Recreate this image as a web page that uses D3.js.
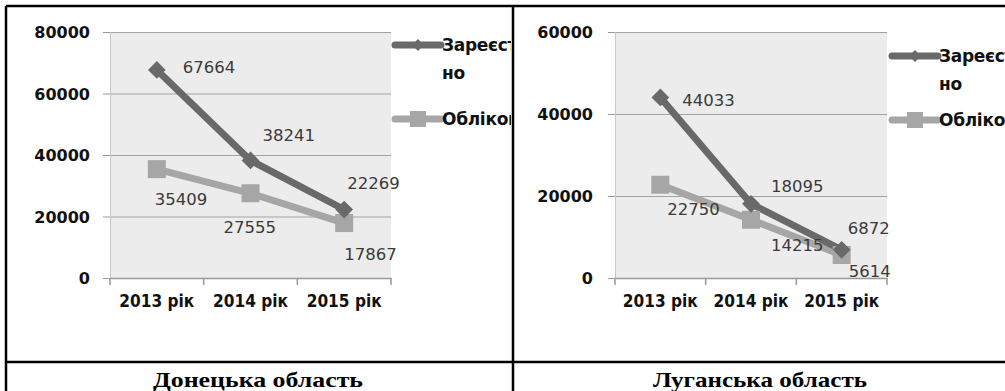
<!DOCTYPE html>
<html><head><meta charset="utf-8">
<script src="https://cdn.jsdelivr.net/npm/d3@7"></script>
<style>body{margin:0;background:#fff}svg{display:block}</style>
</head><body>
<svg id="c" width="1005" height="391"></svg>
<script>
const categories = ["2013 рік", "2014 рік", "2015 рік"];
const seriesNames = ["Зареєстровано", "Обліковано"];
const donetskRegistered = [67664, 38241, 22269];
const donetskRecorded = [35409, 27555, 17867];
const luhanskRegistered = [44033, 18095, 6872];
const luhanskRecorded = [22750, 14215, 5614];
const donetskTicks = [0, 20000, 40000, 60000, 80000];
const luhanskTicks = [0, 20000, 40000, 60000];
const titles = ["Донецька область", "Луганська область"];

const svg = d3.select("#c");
const colors = ["#696969", "#a6a6a6"];

svg.append("defs").append("clipPath").attr("id","clipL")
  .append("rect").attr("x",0).attr("y",0).attr("width",511).attr("height",391);

function drawChart(cfg){
  const g = svg.append("g");
  const x = d3.scaleBand().domain(categories).range([cfg.x0, cfg.x1]);
  const y = d3.scaleLinear().domain([0, d3.max(cfg.ticks)]).range([278, 32]);
  g.append("rect").attr("x", cfg.x0).attr("y", y(d3.max(cfg.ticks)))
    .attr("width", cfg.x1 - cfg.x0).attr("height", y(0) - y(d3.max(cfg.ticks)))
    .attr("fill", "#ececec");
  const grid = g.append("g").attr("transform", `translate(${cfg.x0},0)`)
    .call(d3.axisLeft(y).tickValues(cfg.ticks).tickSize(-(cfg.x1-cfg.x0)).tickFormat(""));
  grid.select(".domain").remove();
  grid.selectAll("line").attr("stroke", "#a3a3a3").attr("stroke-width", 1.2);
  const ya = g.append("g").attr("transform", `translate(${cfg.x0},0)`)
    .call(d3.axisLeft(y).tickValues(cfg.ticks).tickSize(7).tickPadding(cfg.pad).tickFormat(d3.format("d")));
  ya.select(".domain").attr("stroke", "#c8c8c8");
  ya.selectAll("line").attr("stroke", "#999");
  ya.selectAll("text").attr("font-family", "DejaVu Sans").attr("font-weight", "bold")
    .attr("font-size", 16).attr("fill", "#111").attr("dy", "0.35em");
  const xa = g.append("g").attr("transform", `translate(0,${y(0)})`)
    .call(d3.axisBottom(x).tickSize(0).tickPadding(20));
  xa.select(".domain").attr("stroke", "#999").attr("stroke-width", 1.5);
  xa.selectAll("text").attr("font-family", "DejaVu Sans").attr("font-weight", "bold")
    .attr("font-size", 18).attr("fill", "#111").attr("dy", "0.5em")
    .attr("textLength", 75).attr("lengthAdjust", "spacingAndGlyphs");
  const edges = categories.map(c => x(c)).concat([cfg.x1]);
  g.selectAll(".xt").data(edges).join("line")
    .attr("x1", d => d).attr("x2", d => d).attr("y1", y(0)).attr("y2", y(0) + 7)
    .attr("stroke", "#999").attr("stroke-width", 1.5);

  const series = [cfg.s0, cfg.s1];
  const line = d3.line().x((d,i) => x(categories[i]) + x.bandwidth()/2).y(d => y(d));
  [1,0].forEach(si => {
    g.append("path").datum(series[si]).attr("d", line)
      .attr("fill", "none").attr("stroke", colors[si]).attr("stroke-width", 7)
      .attr("stroke-linejoin", "round");
  });
  [1,0].forEach(si => {
    series[si].forEach((v,i) => {
      const cx = x(categories[i]) + x.bandwidth()/2, cy = y(v);
      if (si === 0) {
        g.append("path").attr("d", d3.symbol(d3.symbolDiamond2, 200)())
          .attr("transform", `translate(${cx},${cy})`).attr("fill", colors[0]);
      } else {
        g.append("rect").attr("x", cx-9).attr("y", cy-9).attr("width", 18).attr("height", 18)
          .attr("fill", colors[1]);
      }
    });
  });
  series.forEach((s, si) => {
    s.forEach((v,i) => {
      const cx = x(categories[i]) + x.bandwidth()/2, cy = y(v);
      const off = cfg.labelOff[si][i];
      g.append("text").attr("x", cx + off[0]).attr("y", cy + off[1]).attr("dy", "0.35em")
        .attr("font-family", "DejaVu Sans").attr("font-size", 16.5).attr("fill", "#3a3a3a")
        .text(v);
    });
  });
  const lg = svg.append("g").attr("clip-path", cfg.legendClip || null);
  const ly = cfg.legendY;
  [0,1].forEach(si => {
    const yy = ly[si];
    lg.append("line").attr("x1", cfg.lx).attr("x2", cfg.lx + 46).attr("y1", yy).attr("y2", yy)
      .attr("stroke", colors[si]).attr("stroke-width", 7).attr("stroke-linecap", "round");
    const mx = cfg.lx + 23;
    if (si === 0) lg.append("path").attr("d", d3.symbol(d3.symbolDiamond2, 90)())
      .attr("transform", `translate(${mx},${yy})`).attr("fill", colors[0]);
    else lg.append("rect").attr("x", mx-8).attr("y", yy-8).attr("width", 16).attr("height", 16).attr("fill", colors[1]);
  });
  const tf = t => t.attr("font-family", "DejaVu Sans").attr("font-weight", "bold").attr("font-size", 17).attr("fill", "#111").attr("dy", "0.35em").attr("letter-spacing", "-0.3");
  tf(lg.append("text").attr("x", cfg.lx + 47).attr("y", ly[0]).text(seriesNames[0].slice(0, 11)));
  tf(lg.append("text").attr("x", cfg.lx + 47).attr("y", ly[0] + 28).text(seriesNames[0].slice(11)));
  tf(lg.append("text").attr("x", cfg.lx + 47).attr("y", ly[1]).text(seriesNames[1]));
}

drawChart({
  x0: 110, x1: 391, ticks: donetskTicks, pad: 13, s0: donetskRegistered, s1: donetskRecorded,
  labelOff: [[[26,-3],[12,-25],[3,-26]], [[-2,30],[-27,34],[0,31]]],
  lx: 395, legendY: [45, 119], legendClip: "url(#clipL)"
});
drawChart({
  x0: 615, x1: 887, ticks: luhanskTicks, pad: 15, s0: luhanskRegistered, s1: luhanskRecorded,
  labelOff: [[[22,3],[20,-18],[6,-22]], [[7,24],[20,26],[7,16]]],
  lx: 892, legendY: [56, 120]
});

const bw = 2.5;
[[6,6,1005,6],[6,6,6,391],[513,6,513,391],[6,362,1005,362]].forEach(l => {
  svg.append("line").attr("x1", l[0]).attr("y1", l[1]).attr("x2", l[2]).attr("y2", l[3])
    .attr("stroke", "#000").attr("stroke-width", bw);
});
[258, 760].forEach((cx, i) => {
  svg.append("text").attr("x", cx).attr("y", 387).attr("text-anchor", "middle")
    .attr("font-family", "Liberation Serif").attr("font-weight", "bold").attr("font-size", 22)
    .attr("textLength", i === 0 ? 210 : 214).attr("lengthAdjust", "spacingAndGlyphs")
    .attr("fill", "#000").text(titles[i]);
});
</script>
</body></html>
